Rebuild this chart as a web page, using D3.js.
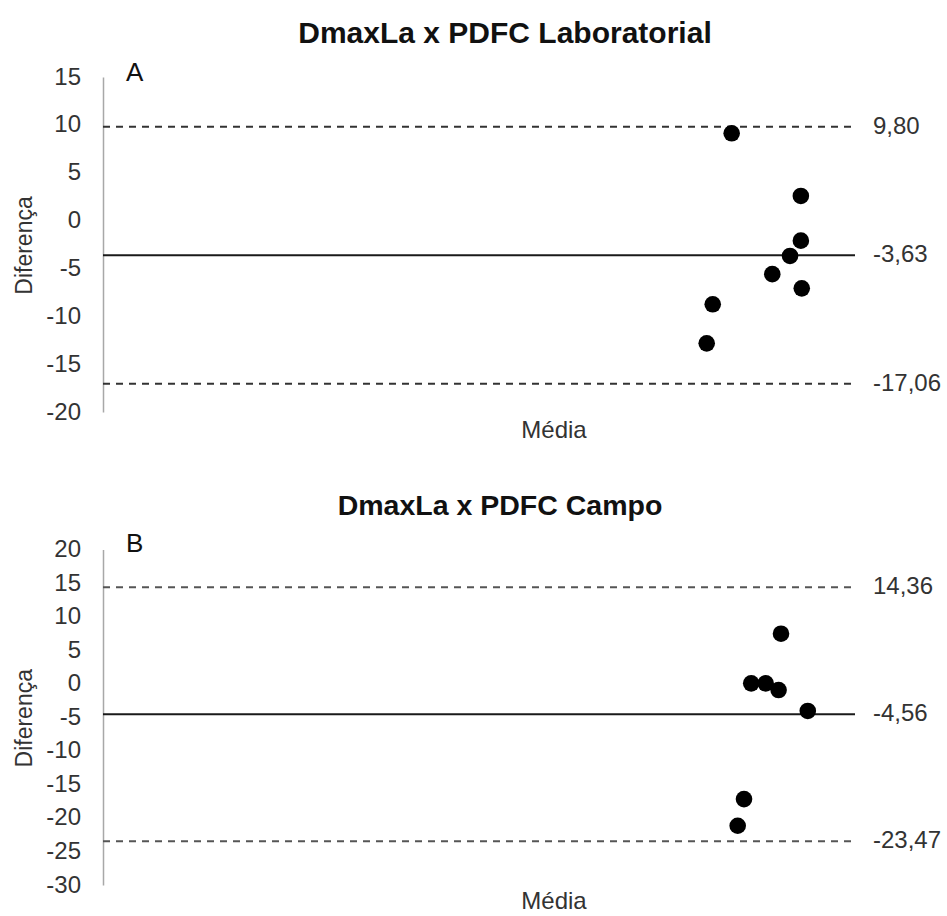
<!DOCTYPE html>
<html>
<head>
<meta charset="utf-8">
<script src="https://cdn.jsdelivr.net/npm/d3@7"></script>
<style>
  html, body { margin: 0; padding: 0; background: #fff; }
  svg { display: block; font-family: "Liberation Sans", Arial, sans-serif; }
</style>
</head>
<body>
<svg id="chart" width="947" height="916"></svg>
<script>
// Panel A: DmaxLa x PDFC Laboratorial
const labMedia     = [209.0, 232.0, 232.0, 228.4, 222.5, 232.3, 202.7, 200.7];
const labDiferenca = [9.12, 2.57, -2.1, -3.7, -5.6, -7.08, -8.75, -12.83];
const labLimits    = [9.80, -3.63, -17.06];   // upper LoA, mean bias, lower LoA
const labTicks     = [15, 10, 5, 0, -5, -10, -15, -20];

// Panel B: DmaxLa x PDFC Campo
const campoMedia     = [225.4, 215.5, 220.3, 224.6, 234.3, 213.1, 211.0];
const campoDiferenca = [7.45, 0.05, 0.05, -0.95, -4.06, -17.2, -21.17];
const campoLimits    = [14.36, -4.56, -23.47];
const campoTicks     = [20, 15, 10, 5, 0, -5, -10, -15, -20, -25, -30];

const mediaDomain = [0, 250];

const ptBR = d3.formatLocale({ decimal: ",", thousands: ".", grouping: [3], currency: ["", ""], minus: "-" });
const fmtLimit = ptBR.format(".2f");

const svg = d3.select("#chart");

function drawPanel(p) {
  const g = svg.append("g");
  const x = d3.scaleLinear().domain(mediaDomain).range([103, 855]);
  const y = d3.scaleLinear().domain(p.yDomain).range(p.yRange);

  // title
  g.append("text")
    .attr("x", p.titleX).attr("y", p.titleY)
    .attr("text-anchor", "middle")
    .attr("font-weight", "bold")
    .attr("font-size", p.titleSize)
    .attr("fill", "#111")
    .text(p.title);

  // panel letter
  g.append("text")
    .attr("x", 126).attr("y", p.letterY)
    .attr("font-size", 26)
    .attr("fill", "#111")
    .text(p.letter);

  // y axis
  const axis = d3.axisLeft(y)
    .tickValues(p.ticks)
    .tickSize(0)
    .tickSizeOuter(0)
    .tickPadding(22)
    .tickFormat(d => String(d));
  const ag = g.append("g").attr("transform", "translate(103,0)").call(axis);
  ag.select(".domain").attr("stroke", "#a8a8a8").attr("stroke-width", 1.5);
  ag.selectAll(".tick text")
    .attr("font-size", 24)
    .attr("font-family", "Liberation Sans, Arial, sans-serif")
    .attr("fill", "#333")
    .attr("dy", null)
    .attr("y", 7);

  // axis titles
  const yMid = (p.yRange[0] + p.yRange[1]) / 2;
  g.append("text")
    .attr("transform", `translate(32,${yMid + 1}) rotate(-90)`)
    .attr("text-anchor", "middle")
    .attr("font-size", 23)
    .attr("fill", "#333")
    .text("Diferença");
  g.append("text")
    .attr("x", 554).attr("y", p.mediaY)
    .attr("text-anchor", "middle")
    .attr("font-size", 24)
    .attr("fill", "#333")
    .text("Média");

  // bias and limits of agreement
  p.limits.forEach((v, i) => {
    const solid = i === 1;
    g.append("line")
      .attr("x1", 103).attr("x2", 855)
      .attr("y1", y(v)).attr("y2", y(v))
      .attr("stroke", solid ? "#1a1a1a" : p.dashColor)
      .attr("stroke-width", 2)
      .attr("stroke-dasharray", solid ? null : "7,6");
    g.append("text")
      .attr("x", 873).attr("y", y(v) + 7)
      .attr("font-size", 24)
      .attr("fill", "#333")
      .text(fmtLimit(v));
  });

  // points
  g.selectAll("circle.pt")
    .data(p.media.map((m, i) => ({ m, d: p.diferenca[i] })))
    .join("circle")
    .attr("class", "pt")
    .attr("cx", d => x(d.m))
    .attr("cy", d => y(d.d))
    .attr("r", 8.3)
    .attr("fill", "#000");
}

drawPanel({
  title: "DmaxLa x PDFC Laboratorial", titleX: 505, titleY: 43, titleSize: 30,
  letter: "A", letterY: 81,
  yDomain: [-20, 15], yRange: [412, 77], ticks: labTicks,
  limits: labLimits, media: labMedia, diferenca: labDiferenca,
  dashColor: "#333", mediaY: 438
});

drawPanel({
  title: "DmaxLa x PDFC Campo", titleX: 500, titleY: 515, titleSize: 28.5,
  letter: "B", letterY: 552,
  yDomain: [-30, 20], yRange: [885, 549.5], ticks: campoTicks,
  limits: campoLimits, media: campoMedia, diferenca: campoDiferenca,
  dashColor: "#555", mediaY: 909
});
</script>
</body>
</html>
